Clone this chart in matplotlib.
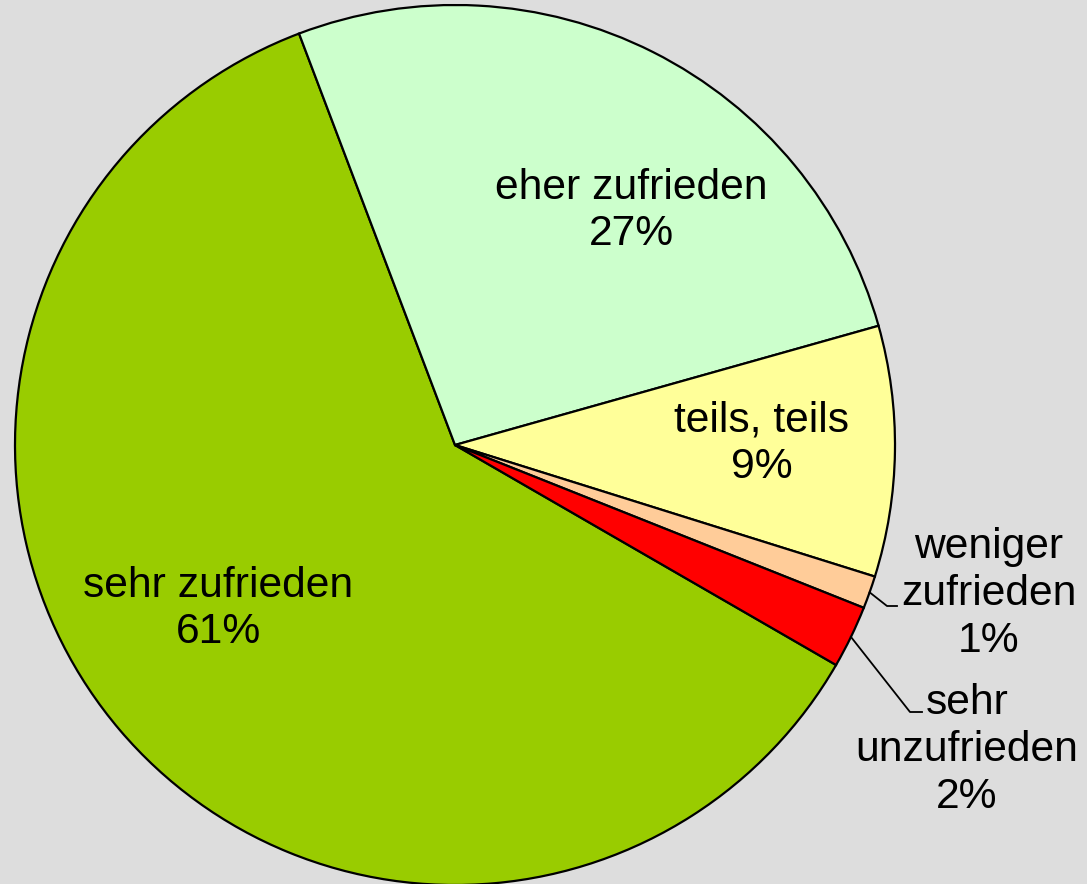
import numpy as np
import matplotlib
matplotlib.use("Agg")
import matplotlib.pyplot as plt

categories = ["sehr zufrieden", "eher zufrieden", "teils, teils", "weniger zufrieden", "sehr unzufrieden"]
values = [60.9, 26.4, 9.2, 1.2, 2.3]
label_texts = ["sehr zufrieden\n61%", "eher zufrieden\n27%", "teils, teils\n9%",
               "weniger\nzufrieden\n1%", "sehr\nunzufrieden\n2%"]
colors = ["#99CC00", "#CCFFCC", "#FFFF99", "#FFCC99", "#FF0000"]

plt.rcParams['font.family'] = ['Liberation Sans', 'DejaVu Sans']

W, H = 1087, 884
fig = plt.figure(figsize=(W / 100, H / 100), dpi=100)
fig.patch.set_facecolor("#DDDDDD")
ax = fig.add_axes([0, 0, 1, 1])
ax.set_facecolor("#DDDDDD")

cx, cy, R = 455, 445, 440  # pixel center / radius

def px(x, y):
    return ((x - cx) / R, (cy - y) / R)

wedges, _ = ax.pie(values, colors=colors, startangle=-30, counterclock=False,
                   radius=1.0, center=(0, 0),
                   wedgeprops=dict(edgecolor="black", linewidth=1.6))

ax.set_xlim(-cx / R, (W - cx) / R)
ax.set_ylim(-(H - cy) / R, cy / R)
ax.set_aspect("equal", adjustable="box")
ax.axis("off")

fs = 30.7
ls = 1.22
# inside labels
inside_pos = {0: (218, 609), 1: (631, 211), 2: (762, 444)}
for i, (x, y) in inside_pos.items():
    tx, ty = px(x, y)
    ax.text(tx, ty, label_texts[i], ha="center", va="center", fontsize=fs,
            linespacing=ls, color="black")

# outside labels with leader lines
outside = {3: ((989, 594), (887, 606), (897, 606)),
           4: ((967, 750), (910, 712), (922, 712))}
for i, (tpos, elbow, end) in outside.items():
    tx, ty = px(*tpos)
    ax.text(tx, ty, label_texts[i], ha="center", va="center", fontsize=fs,
            linespacing=ls, color="black")
    w = wedges[i]
    mid = np.deg2rad((w.theta1 + w.theta2) / 2)
    sx, sy = np.cos(mid), np.sin(mid)
    ex, ey = px(*elbow)
    fx, fy = px(*end)
    ax.plot([sx, ex, fx], [sy, ey, fy], color="black", linewidth=1.3)

fig.savefig("out.png", dpi=100, facecolor=fig.get_facecolor())
